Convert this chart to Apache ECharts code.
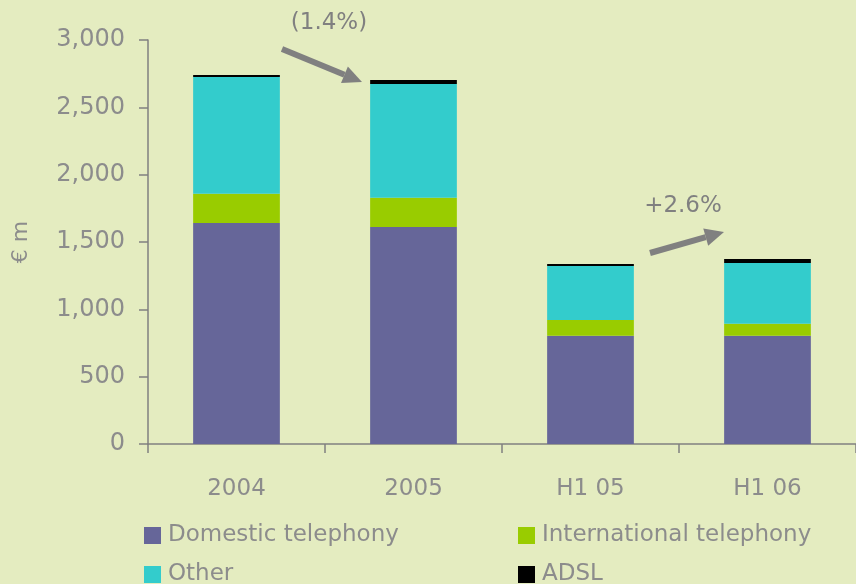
<!DOCTYPE html>
<html>
<head>
<meta charset="utf-8">
<script src="https://cdn.jsdelivr.net/npm/echarts@6/dist/echarts.min.js"></script>
<style>
  html, body { margin: 0; padding: 0; background: #e4ecc0; }
  #chart { width: 856px; height: 584px; }
</style>
</head>
<body>
<div id="chart"></div>
<script>
const categories = ['2004', '2005', 'H1 05', 'H1 06'];
const domestic = [1641, 1611, 804, 804];
const international = [218, 218, 117, 89];
const other = [866, 844, 401, 451];
const adsl = [15, 30, 15, 30];
const yTicks = [0, 500, 1000, 1500, 2000, 2500, 3000];

const gray = '#8c8c8c';
const font = 'DejaVu Sans';

// arrow annotation: shaft + head
function arrow(x1, y1, x2, y2) {
  const a = Math.atan2(y2 - y1, x2 - x1);
  const len = 19, hw = 9;
  const bx = x2 - len * Math.cos(a), by = y2 - len * Math.sin(a);
  const px = -Math.sin(a) * hw, py = Math.cos(a) * hw;
  return {
    type: 'group',
    children: [
      { type: 'line', shape: { x1: x1, y1: y1, x2: bx, y2: by }, style: { stroke: '#808080', lineWidth: 6 } },
      { type: 'polygon', shape: { points: [[x2, y2], [bx + px, by + py], [bx - px, by - py]] }, style: { fill: '#808080' } }
    ]
  };
}

const chart = echarts.init(document.getElementById('chart'));

function barSeries(name, data, color) {
  return {
    name: name,
    type: 'bar',
    stack: 'rev',
    data: data,
    barWidth: '49%',
    itemStyle: { color: color },
    emphasis: { disabled: true }
  };
}

const legendText = { color: gray, fontFamily: font, fontSize: 23, padding: [0, 0, 0, 2] };

chart.setOption({
  backgroundColor: '#e4ecc0',
  animation: false,
  grid: { left: 148, right: -5, top: 40, bottom: 140 },
  xAxis: {
    type: 'category',
    data: categories,
    axisLine: { lineStyle: { color: '#808080', width: 1.5 } },
    axisTick: { show: true, length: 9, lineStyle: { color: '#808080', width: 1.5 } },
    axisLabel: { color: gray, fontFamily: font, fontSize: 23, margin: 34 }
  },
  yAxis: {
    type: 'value',
    min: yTicks[0],
    max: yTicks[yTicks.length - 1],
    interval: 500,
    name: '€ m',
    nameLocation: 'middle',
    nameGap: 116,
    nameTextStyle: { color: gray, fontFamily: font, fontSize: 22 },
    splitLine: { show: false },
    axisLine: { show: true, lineStyle: { color: '#808080', width: 1.5 } },
    axisTick: { show: true, length: 9, lineStyle: { color: '#808080', width: 1.5 } },
    axisLabel: {
      color: gray, fontFamily: font, fontSize: 24, margin: 23,
      formatter: v => v.toLocaleString('en-US')
    }
  },
  legend: [
    {
      orient: 'vertical', left: 139, top: 519, height: 80,
      itemWidth: 17, itemHeight: 17, itemGap: 16,
      icon: 'rect',
      textStyle: legendText,
      data: ['Domestic telephony', 'Other']
    },
    {
      orient: 'vertical', left: 513, top: 519, height: 80,
      itemWidth: 17, itemHeight: 17, itemGap: 16,
      icon: 'rect',
      textStyle: legendText,
      data: ['International telephony', 'ADSL']
    }
  ],
  series: [
    barSeries('Domestic telephony', domestic, '#666699'),
    barSeries('International telephony', international, '#99cc00'),
    barSeries('Other', other, '#33cccc'),
    barSeries('ADSL', adsl, '#000000')
  ],
  graphic: [
    { type: 'text', x: 329, y: 23, style: { text: '(1.4%)', fill: '#808080', font: '23px "DejaVu Sans"', align: 'center', verticalAlign: 'middle' } },
    { type: 'text', x: 683, y: 206, style: { text: '+2.6%', fill: '#808080', font: '23px "DejaVu Sans"', align: 'center', verticalAlign: 'middle' } },
    arrow(282, 49, 362, 82),
    arrow(650, 253, 724, 232)
  ]
});
</script>
</body>
</html>
